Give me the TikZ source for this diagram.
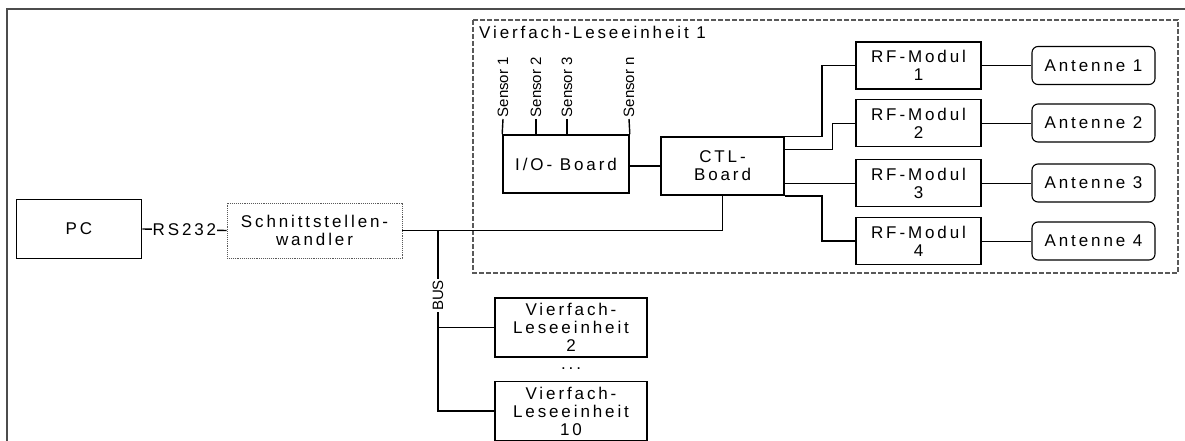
\documentclass[tikz,border=0pt]{standalone}
\usepackage{fontspec}
\setmainfont{Liberation Sans}[LetterSpace=17]
\newfontfamily\narrowsans{Liberation Sans}
\usetikzlibrary{calc}

\begin{document}
\begin{tikzpicture}[x=1pt, y=-1pt,
  font=\fontsize{17}{18}\selectfont,
  box/.style={draw, line width=1.6pt, align=center, inner sep=0pt},
  antbox/.style={draw, line width=1.1pt, rounded corners=6pt, minimum width=123pt, minimum height=38pt, inner sep=0pt},
  link/.style={line width=1.4pt},
  thinlink/.style={line width=0.9pt},
  sensorlabel/.style={rotate=90, anchor=west, inner sep=1.5pt, font=\narrowsans\fontsize{15}{15}\selectfont}]
  \useasboundingbox (0,0) rectangle (1185,441);

  \draw[line width=1.8pt, gray!60!black] (7,9) rectangle (1200,460);
  \draw[line width=1.1pt, gray!70!black, dash pattern=on 5pt off 2pt] (473,20) rectangle (1178,273);
  \node[anchor=west, inner sep=0pt] (grouplabel) at (479,32) {Vierfach-Leseeinheit 1};

  \node[box, minimum width=125pt, minimum height=59pt] (pc) at (79,229) {PC};
  \node[box, line width=0.9pt, densely dotted, draw=gray!70!black, minimum width=175pt, minimum height=55pt] (sw) at (314.5,230.5) {Schnittstellen-\\wandler};
  \node[box, minimum width=126pt, minimum height=58pt] (io) at (566,164) {I/O- Board};
  \node[box, minimum width=123pt, minimum height=58pt] (ctl) at (722.5,166) {CTL-\\Board};

  \node[sensorlabel] (s1) at (503,119) {Sensor 1};
  \node[sensorlabel] (s2) at (536,119) {Sensor 2};
  \node[sensorlabel] (s3) at (567,119) {Sensor 3};
  \node[sensorlabel] (sn) at (629,119) {Sensor n};
  \draw[link] (s1.west) -- (io.north west);
  \draw[link] (s2.west) -- (s2.west |- io.north);
  \draw[link] (s3.west) -- (s3.west |- io.north);
  \draw[link] (sn.west) -- (io.north east);

  \foreach \i/\y in {1/65.5,2/123,3/183,4/241}{
    \node[box, minimum width=125pt, minimum height=47pt] (rf\i) at (918.5,\y) {RF-Modul\\\i};
    \node[antbox] (ant\i) at (1093.5,\y) {Antenne \i};
    \draw[thinlink] (rf\i.east) -- (ant\i.west);
  }

  \draw[link] (io.east |- ctl.west) -- (ctl.west);
  \draw[link] (ctl.north east) -- ++(37,0) |- (rf1.west);
  \draw[thinlink] ([yshift=-13pt]ctl.north east) -- ++(48,0) |- (rf2.west);
  \draw[thinlink] (ctl.east |- rf3.west) -- (rf3.west);
  \draw[link] (ctl.south east) -- ++(37,0) |- (rf4.west);

  \draw[link] (pc.east) -- node[fill=white, inner sep=1pt] (rs) {RS232} (sw.west);
  \draw[link] (sw.east) -| (ctl.south);

  \node[box, minimum width=152pt, minimum height=59pt] (v2) at (571,327.5) {Vierfach-\\Leseeinheit\\2};
  \node[inner sep=0pt] (dots) at (571,369) {...};
  \node[box, minimum width=152pt, minimum height=59pt] (v10) at (571,411) {Vierfach-\\Leseeinheit\\10};

  \coordinate (bus) at (438,230.5);
  \draw[link] (bus) -- node[pos=0.36, fill=white, rotate=90, inner sep=1pt, font=\narrowsans\fontsize{15}{15}\selectfont] (buslabel) {BUS} (bus |- v10.west) -- (v10.west);
  \draw[link] (bus |- v2.west) -- (v2.west);
\end{tikzpicture}
\end{document}
